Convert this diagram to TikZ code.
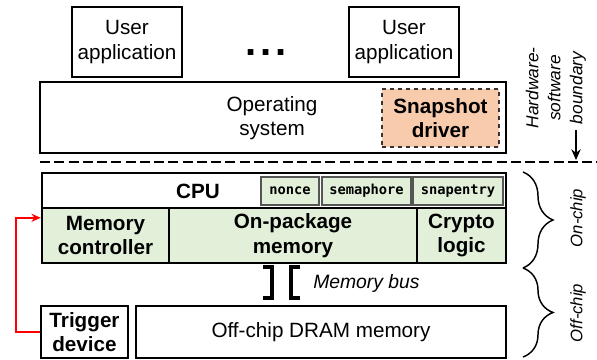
\documentclass[tikz,border=0pt]{standalone}
\usepackage{fontspec}
\setmainfont{Liberation Sans}
\newfontfamily\codefont{DejaVu Sans Mono}
\usetikzlibrary{arrows.meta,decorations.pathreplacing,calc}
\definecolor{chipgreen}{HTML}{E2EFD9}
\definecolor{drvsalmon}{HTML}{F8CBAD}
\definecolor{regborder}{HTML}{555555}
\begin{document}
\begin{tikzpicture}[x=0.75pt,y=-0.75pt,
  box/.style={draw=black,line width=1.5pt,fill=white,inner sep=0pt,align=center,
    font=\fontsize{15.5}{18.5}\selectfont},
  chip/.style={box,fill=chipgreen,font=\fontsize{15.5}{18.5}\selectfont\bfseries},
  reg/.style={draw=regborder,line width=1pt,fill=chipgreen,inner sep=0pt,
    font=\fontsize{10.3}{12}\selectfont\codefont\bfseries},
  side/.style={font=\fontsize{12.5}{14}\selectfont\itshape,align=center,inner sep=0pt},
  brace/.style={decorate,decoration={brace,amplitude=22.5pt},line width=1.1pt}]
\useasboundingbox (0,0) rectangle (597,360);

% software layer
\node[box,minimum width=110*0.75pt,minimum height=70*0.75pt] (app1) at (127,42) {User\\application};
\node[box,minimum width=110*0.75pt,minimum height=70*0.75pt] (app2) at (404,42) {User\\application};
\node[font=\fontsize{30}{30}\selectfont\bfseries,inner sep=0pt,anchor=base west] (dots) at (245,56) {.\kern3pt.\kern3pt.};

\node[box,minimum width=466*0.75pt,minimum height=71*0.75pt] (os) at (273,117.5) {};
\node[align=center,font=\fontsize{15.5}{18.5}\selectfont,inner sep=0pt] (ostext) at (272,118) {Operating\\system};
\node[draw=black!80,dashed,line width=0.8pt,fill=drvsalmon,inner sep=0pt,align=center,
  minimum width=117*0.75pt,minimum height=58*0.75pt,
  font=\fontsize{15.5}{18.5}\selectfont\bfseries] (drv) at (440.5,118) {Snapshot\\driver};

% hardware/software boundary
\coordinate (bl) at (40,162);
\coordinate (br) at (597,162);
\draw[line width=2.2pt,dash pattern=on 7.5pt off 3.2pt] (bl) -- (br);
\node[side,rotate=90,font=\fontsize{13}{16.5}\selectfont\itshape] (hsb) at (556,88) {Hardware-\\software\\boundary};
\coordinate (arrtop) at (576,130);
\coordinate (arrbot) at (576,160);
\draw[line width=1.3pt,-{Stealth[length=8pt,width=7pt]}] (arrtop) -- (arrbot);

% CPU package
\node[box,line width=1.8pt,minimum width=464*0.75pt,minimum height=90*0.75pt] (cpu) at (274,218) {};
\node[font=\fontsize{15.5}{17}\selectfont\bfseries,inner sep=0pt] (cputext) at (198,191) {CPU};
\node[reg,minimum width=58*0.75pt,minimum height=28*0.75pt] (nonce) at (290,191) {nonce};
\node[reg,minimum width=89*0.75pt,minimum height=28*0.75pt] (sema) at (366.5,191) {semaphore};
\node[reg,minimum width=90*0.75pt,minimum height=28*0.75pt] (snap) at (458,191) {snapentry};
\node[chip,line width=1.8pt,minimum width=127*0.75pt,minimum height=55*0.75pt] (mc) at (105.5,235.5) {Memory\\controller};
\node[chip,line width=1.8pt,minimum width=248*0.75pt,minimum height=55*0.75pt] (opm) at (293,235.5) {On-package\\memory};
\node[chip,line width=1.8pt,minimum width=89*0.75pt,minimum height=55*0.75pt] (cry) at (461.5,235.5) {Crypto\\logic};

% memory bus
\coordinate (b1a) at (263,267); \coordinate (b1b) at (272,267);
\coordinate (b1c) at (272,298); \coordinate (b1d) at (263,298);
\coordinate (b2a) at (300,267); \coordinate (b2b) at (291,267);
\coordinate (b2c) at (291,298); \coordinate (b2d) at (300,298);
\draw[line width=2.4pt] (b1a) -- (b1b) -- (b1c) -- (b1d);
\draw[line width=2.4pt] (b2a) -- (b2b) -- (b2c) -- (b2d);
\node[anchor=west,inner sep=0pt,font=\fontsize{14.5}{17}\selectfont\itshape] (bus) at (313,284) {Memory bus};

% off-chip
\node[box,font=\fontsize{15.5}{18.5}\selectfont\bfseries,minimum width=87*0.75pt,minimum height=52*0.75pt] (trig) at (84.5,332) {Trigger\\device};
\node[box,minimum width=370*0.75pt,minimum height=52*0.75pt] (dram) at (321,332) {Off-chip DRAM memory};

% trigger line
\draw[red,line width=1.3pt,-{Stealth[length=7pt,width=6pt]}]
  (trig.west) -- ++(-24,0) |- ($(mc.north west)+(0,11)$);

% on-chip / off-chip braces
\coordinate (ontop) at (523,172); \coordinate (onbot) at (523,268);
\coordinate (offtop) at (523,268); \coordinate (offbot) at (523,357);
\draw[brace] (ontop) -- (onbot);
\draw[brace] (offtop) -- (offbot);
\node[side,rotate=90] (onlbl) at (578,218) {On-chip};
\node[side,rotate=90] (offlbl) at (578,313) {Off-chip};
\end{tikzpicture}
\end{document}
